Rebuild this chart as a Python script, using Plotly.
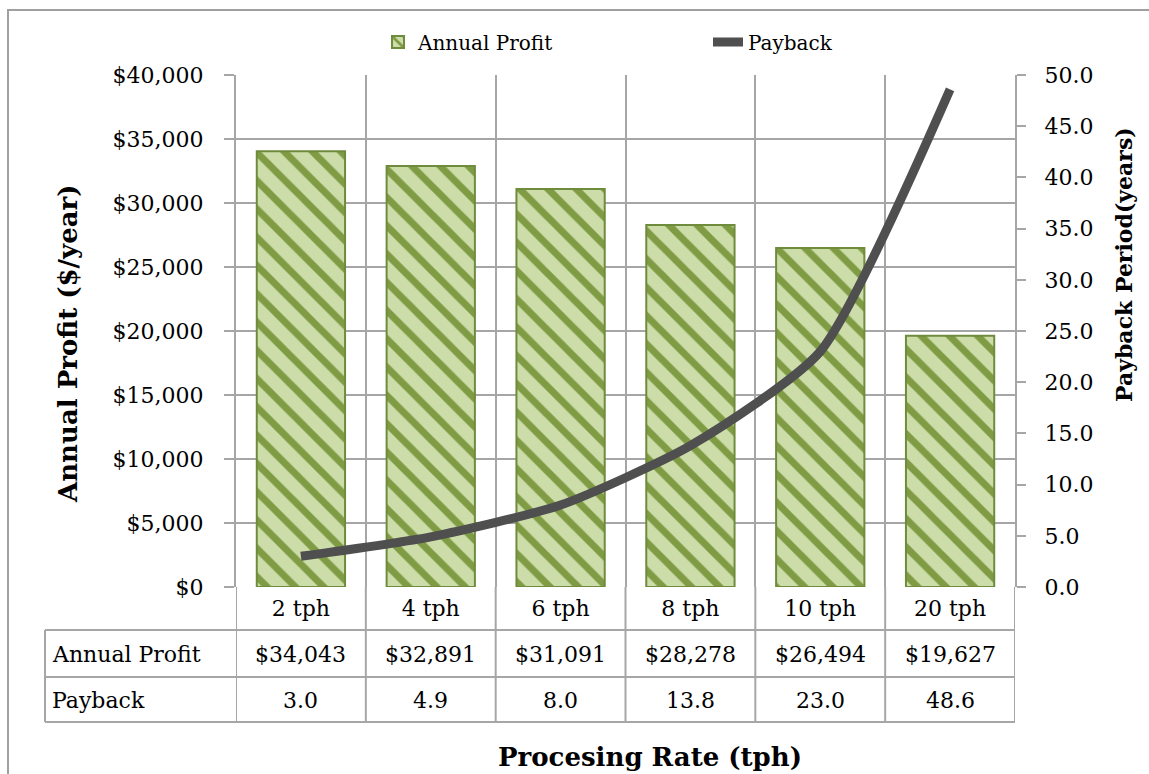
import plotly.graph_objects as go

categories = ["2 tph", "4 tph", "6 tph", "8 tph", "10 tph", "20 tph"]
annual_profit = [34043, 32891, 31091, 28278, 26494, 19627]
payback = [3.0, 4.9, 8.0, 13.8, 23.0, 48.6]
profit_ticks = [0, 5000, 10000, 15000, 20000, 25000, 30000, 35000, 40000]
payback_ticks = [0, 5, 10, 15, 20, 25, 30, 35, 40, 45, 50]

W, H = 1149, 774
L, R, T, B = 236, 1015, 75, 587
PW, PH = R - L, B - T

def px(x):
    return (x - L) / PW

def py(y):
    return (B - y) / PH

REG = "DejaVu Serif"
BOLD = "DejaVu Serif"
GRID = "#A6A6A6"
FS = 22

fig = go.Figure()
fig.add_trace(go.Bar(
    x=categories, y=annual_profit, name="Annual Profit",
    marker=dict(color="#CCDDAA",
                line=dict(color="#6F8C3C", width=2),
                pattern=dict(shape="\\", bgcolor="#CCDDAA", fgcolor="#7F9B43",
                             size=20, solidity=0.35, fillmode="replace")),
    yaxis="y",
))
fig.add_trace(go.Scatter(
    x=categories, y=payback, name="Payback", mode="lines",
    line=dict(color="#4F4F4F", width=9, shape="spline", smoothing=0.6),
    yaxis="y2",
))

shapes = []
line = dict(color=GRID, width=2)
for yy in [630, 677, 722]:
    shapes.append(dict(type="line", xref="paper", yref="paper",
                       x0=px(45), x1=1, y0=py(yy), y1=py(yy), line=line))
for i in range(len(categories) + 1):
    shapes.append(dict(type="line", xref="x", yref="paper",
                       x0=i - 0.5, x1=i - 0.5, y0=0, y1=py(722), line=line))
shapes.append(dict(type="line", xref="paper", yref="paper",
                   x0=px(45), x1=px(45), y0=py(630), y1=py(722), line=line))
shapes.append(dict(type="rect", xref="paper", yref="paper",
                   x0=px(8), x1=px(1165), y0=py(10), y1=py(795),
                   line=dict(color="#A0A0A0", width=2)))

annotations = []
tfont = dict(family=REG, size=FS, color="black")
annotations.append(dict(text="Annual Profit", xref="paper", yref="paper",
                        x=px(50), y=py(654), xanchor="left", yanchor="middle",
                        showarrow=False, font=tfont))
annotations.append(dict(text="Payback", xref="paper", yref="paper",
                        x=px(50), y=py(700), xanchor="left", yanchor="middle",
                        showarrow=False, font=tfont))
for c, v, p in zip(categories, annual_profit, payback):
    annotations.append(dict(text=f"${v:,}", xref="x", yref="paper", x=c,
                            y=py(654), xanchor="center", yanchor="middle",
                            showarrow=False, font=tfont))
    annotations.append(dict(text=f"{p:.1f}", xref="x", yref="paper", x=c,
                            y=py(700), xanchor="center", yanchor="middle",
                            showarrow=False, font=tfont))

annotations.append(dict(text="<b>Procesing Rate (tph)</b>", xref="paper", yref="paper",
                        x=px(650), y=py(757), xanchor="center", yanchor="middle",
                        showarrow=False, font=dict(family=BOLD, size=26, color="black")))
annotations.append(dict(text="<b>Annual Profit ($/year)</b>", xref="paper", yref="paper",
                        x=px(68), y=py(344), xanchor="center", yanchor="middle",
                        textangle=-90, showarrow=False,
                        font=dict(family=BOLD, size=26, color="black")))
annotations.append(dict(text="<b>Payback Period(years)</b>", xref="paper", yref="paper",
                        x=px(1124), y=py(265), xanchor="center", yanchor="middle",
                        textangle=-90, showarrow=False,
                        font=dict(family=BOLD, size=22, color="black")))

fig.update_layout(
    width=W, height=H,
    margin=dict(l=L, r=W - R, t=T, b=H - B),
    paper_bgcolor="white", plot_bgcolor="white",
    font=dict(family=REG, size=FS, color="black"),
    bargap=0.32,
    showlegend=True,
    legend=dict(orientation="h", x=px(378), y=py(42), xanchor="left", yanchor="middle",
                font=dict(family=REG, size=20, color="black"),
                entrywidth=285, entrywidthmode="pixels",
                bgcolor="rgba(0,0,0,0)", traceorder="normal"),
    xaxis=dict(type="category", tickson="boundaries", ticks="", showgrid=True,
               gridcolor=GRID, gridwidth=2, showline=False, zeroline=False,
               tickfont=dict(family=REG, size=FS, color="black"),
               ticklabelstandoff=6, range=[-0.5, 5.5]),
    yaxis=dict(range=[0, 40000], tickvals=profit_ticks,
               ticktext=[f"${v:,}" for v in profit_ticks],
               showgrid=True, gridcolor=GRID, gridwidth=2, zeroline=False,
               showline=True, linecolor=GRID, linewidth=2,
               ticks="outside", ticklen=10, tickcolor=GRID, tickwidth=2,
               ticklabelstandoff=16,
               tickfont=dict(family=REG, size=FS, color="black")),
    yaxis2=dict(range=[0, 50], tickvals=payback_ticks,
                ticktext=[f"{v:.1f}" for v in payback_ticks],
                overlaying="y", side="right", showgrid=False, zeroline=False,
                showline=True, linecolor=GRID, linewidth=2,
                ticks="outside", ticklen=9, tickcolor=GRID, tickwidth=2,
                ticklabelstandoff=14,
                tickfont=dict(family=REG, size=FS, color="black")),
    shapes=shapes,
    annotations=annotations,
)

fig.write_html("out.html")
